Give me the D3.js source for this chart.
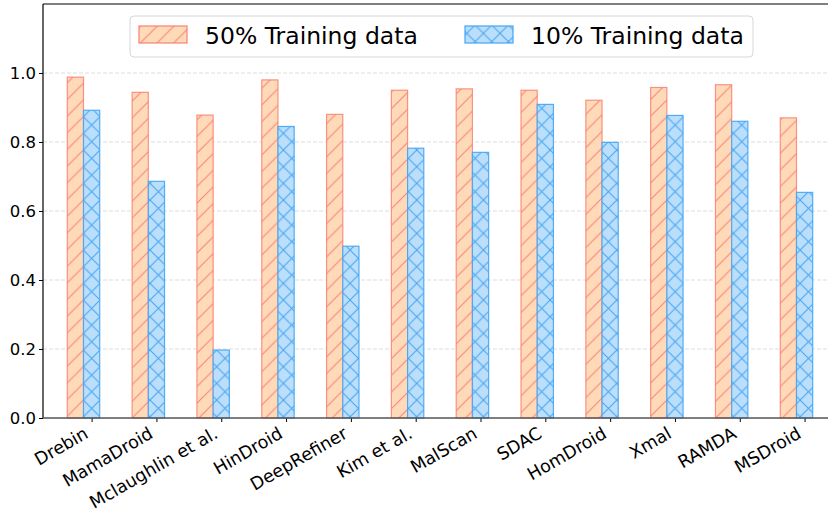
<!DOCTYPE html>
<html>
<head>
<meta charset="utf-8">
<script src="https://cdn.jsdelivr.net/npm/d3@7"></script>
<style>
  body { margin: 0; background: #fff; }
  text { font-family: "DejaVu Sans", sans-serif; }
</style>
</head>
<body>
<script>
var methods = ["Drebin", "MamaDroid", "Mclaughlin et al.", "HinDroid", "DeepRefiner", "Kim et al.",
               "MalScan", "SDAC", "HomDroid", "Xmal", "RAMDA", "MSDroid"];
var train50 = [0.988, 0.944, 0.878, 0.980, 0.880, 0.950, 0.954, 0.950, 0.921, 0.958, 0.966, 0.870];
var train10 = [0.892, 0.686, 0.197, 0.845, 0.498, 0.782, 0.770, 0.909, 0.799, 0.877, 0.860, 0.654];
var yTicks = [0.0, 0.2, 0.4, 0.6, 0.8, 1.0];
var seriesNames = ["50% Training data", "10% Training data"];

function main() {
    var width = 828, height = 514;
    var mLeft = 43, mTop = 4, mBottom = 418, mRight = 837;
    var barW = 0.25;

    var svg = d3.select("body").append("svg")
        .attr("width", width)
        .attr("height", height);

    // hatch patterns
    var defs = svg.append("defs");
    var hs = 16.67;
    var p1 = defs.append("pattern").attr("id", "hatchSlash")
        .attr("patternUnits", "userSpaceOnUse").attr("width", hs).attr("height", hs);
    p1.append("rect").attr("width", hs).attr("height", hs).attr("fill", "#FFDAB9");
    p1.append("path").attr("d", "M0," + hs + "L" + hs + ",0M-2,2L2,-2M" + (hs - 2) + "," + (hs + 2) + "L" + (hs + 2) + "," + (hs - 2))
        .attr("stroke", "#FA8072").attr("stroke-width", 1);

    var p2 = defs.append("pattern").attr("id", "hatchX")
        .attr("patternUnits", "userSpaceOnUse").attr("width", hs).attr("height", hs);
    p2.append("rect").attr("width", hs).attr("height", hs).attr("fill", "#BBDEFB");
    p2.append("path").attr("d", "M0," + hs + "L" + hs + ",0M0,0L" + hs + "," + hs)
        .attr("stroke", "#42A5F5").attr("stroke-width", 1);

    var x = d3.scaleLinear().domain([-0.5, 11.75]).range([mLeft, mRight]);
    var y = d3.scaleLinear().domain([0, 1.2]).range([mBottom, mTop]);

    // grid
    svg.append("g").selectAll("line")
        .data(yTicks.slice(1))
        .enter().append("line")
        .attr("x1", mLeft).attr("x2", mRight)
        .attr("y1", function(d) { return y(d); })
        .attr("y2", function(d) { return y(d); })
        .attr("stroke", "#dddddd")
        .attr("stroke-dasharray", "4,2")
        .attr("stroke-width", 1);

    // bars
    svg.append("g").selectAll("rect")
        .data(train50)
        .enter().append("rect")
        .attr("x", function(d, i) { return x(i - barW / 2); })
        .attr("width", x(barW) - x(0))
        .attr("y", function(d) { return y(d); })
        .attr("height", function(d) { return y(0) - y(d); })
        .attr("fill", "url(#hatchSlash)")
        .attr("stroke", "#FA8072")
        .attr("stroke-opacity", 0.85)
        .attr("stroke-width", 1.2);

    svg.append("g").selectAll("rect")
        .data(train10)
        .enter().append("rect")
        .attr("x", function(d, i) { return x(i + barW / 2); })
        .attr("width", x(barW) - x(0))
        .attr("y", function(d) { return y(d); })
        .attr("height", function(d) { return y(0) - y(d); })
        .attr("fill", "url(#hatchX)")
        .attr("stroke", "#42A5F5")
        .attr("stroke-opacity", 0.9)
        .attr("stroke-width", 1.2);

    // y axis
    var yAxis = svg.append("g")
        .attr("transform", "translate(" + mLeft + ",0)")
        .call(d3.axisLeft(y).tickValues(yTicks).tickFormat(d3.format(".1f")).tickSize(4).tickSizeOuter(0));
    yAxis.select(".domain").remove();
    yAxis.selectAll("text").style("font-size", "16.5px").attr("fill", "#000").attr("dx", "0");

    // x axis
    var xAxis = svg.append("g")
        .attr("transform", "translate(0," + mBottom + ")")
        .call(d3.axisBottom(x).tickValues(d3.range(methods.length).map(function(i) { return i + barW; }))
            .tickFormat(function(d, i) { return methods[i]; }).tickSize(4).tickSizeOuter(0));
    xAxis.select(".domain").remove();
    xAxis.selectAll("text")
        .style("font-size", "17.5px")
        .attr("fill", "#000")
        .attr("text-anchor", "end")
        .attr("x", 0)
        .attr("y", 0)
        .attr("dy", "0.72em")
        .attr("transform", "translate(-9,8) rotate(-30)");

    // spines
    svg.append("line").attr("x1", mLeft).attr("x2", mLeft).attr("y1", mTop).attr("y2", mBottom)
        .attr("stroke", "#000").attr("stroke-width", 1.2);
    svg.append("line").attr("x1", mLeft).attr("x2", mRight).attr("y1", mTop).attr("y2", mTop)
        .attr("stroke", "#000").attr("stroke-width", 1.2);
    svg.append("line").attr("x1", mLeft).attr("x2", mRight).attr("y1", mBottom).attr("y2", mBottom)
        .attr("stroke", "#555").attr("stroke-width", 1.5);

    // legend
    var legend = svg.append("g");
    legend.append("rect")
        .attr("x", 130).attr("y", 16).attr("width", 623).attr("height", 41)
        .attr("rx", 4)
        .attr("fill", "#fff").attr("fill-opacity", 0.8)
        .attr("stroke", "#d6d6d6");
    var legX = [139, 465];
    var legFill = ["url(#hatchSlash)", "url(#hatchX)"];
    var legStroke = ["#FA8072", "#42A5F5"];
    seriesNames.forEach(function(name, i) {
        legend.append("rect")
            .attr("x", legX[i]).attr("y", 26).attr("width", 48).attr("height", 17)
            .attr("fill", legFill[i]).attr("stroke", legStroke[i]).attr("stroke-width", 1.2);
        legend.append("text")
            .attr("x", legX[i] + 66).attr("y", 44)
            .style("font-size", "23.5px")
            .attr("fill", "#000")
            .text(name);
    });
}
main();
</script>
</body>
</html>
